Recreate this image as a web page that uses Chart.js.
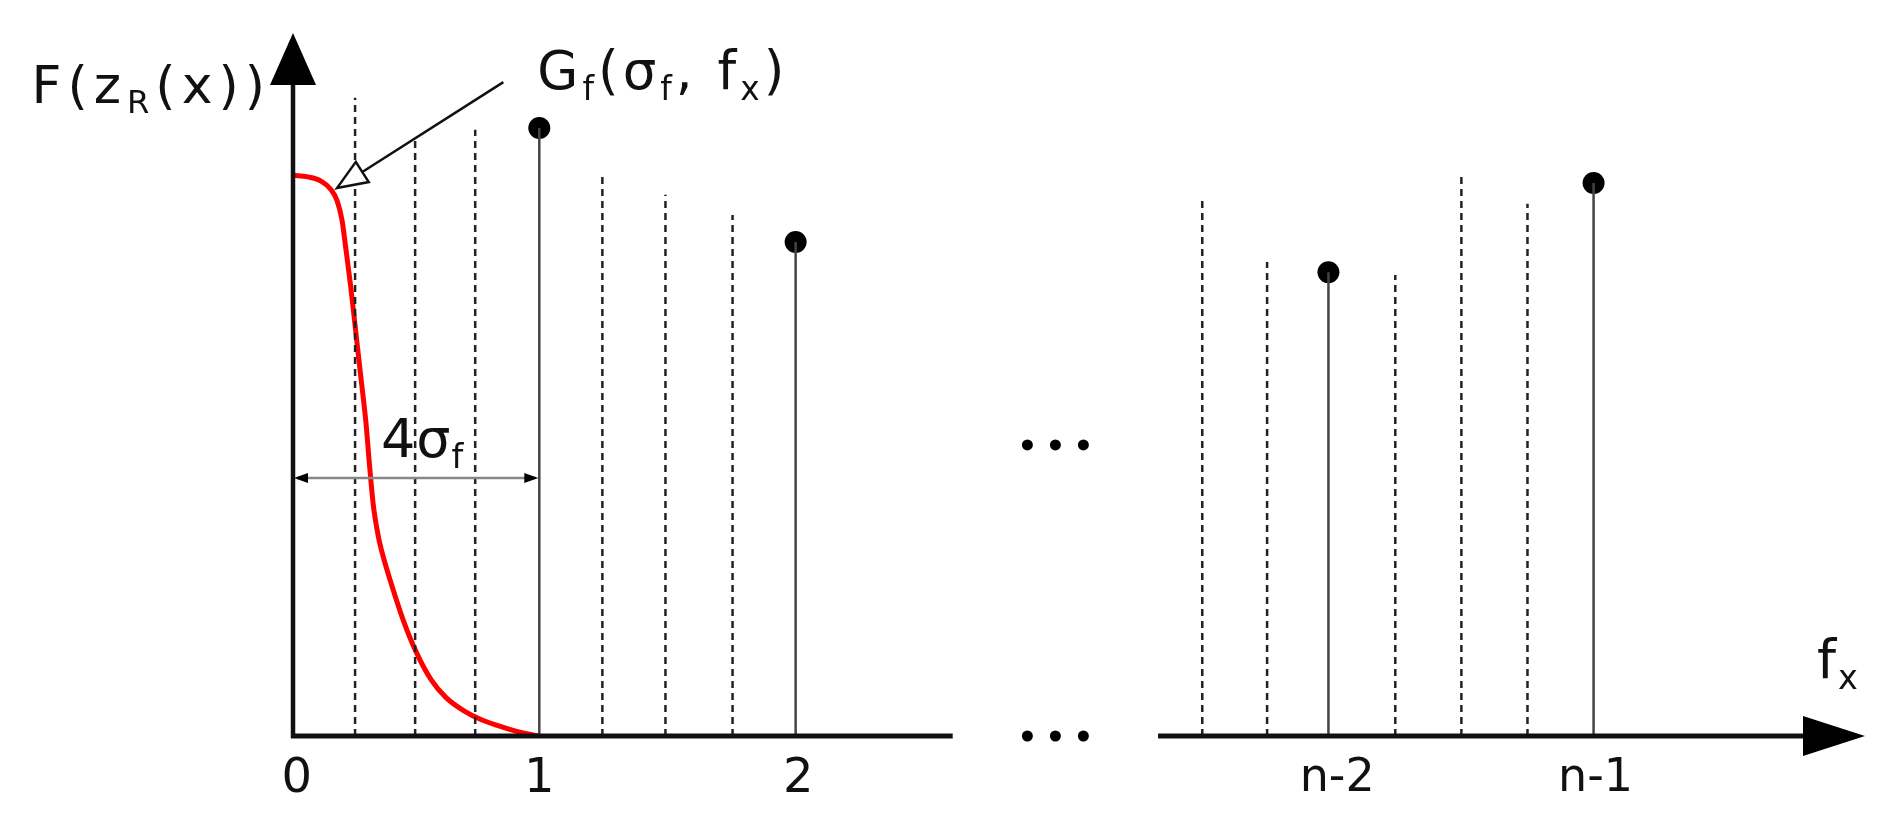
<!DOCTYPE html>
<html lang="en">
<head>
  <meta charset="UTF-8">
  <title>Gaussian window over sampled spectrum</title>
  <script src="https://cdn.jsdelivr.net/npm/chart.js"></script>
  <style>
    body {
      margin: 0;
      background: #fff;
    }
    .chart-container {
      width: 1892px;
      height: 827px;
      position: relative;
    }
  </style>
</head>
<body>

  <div class="chart-container">
    <canvas id="myChart"></canvas>
  </div>

  <script>
    // red Gaussian window G_f(sigma_f, f_x)
    const curveX = [0, 0.06, 0.11, 0.15, 0.175, 0.195, 0.21, 0.23, 0.25, 0.27, 0.29, 0.305, 0.32, 0.34, 0.36, 0.39, 0.44, 0.49, 0.55, 0.61, 0.68, 0.75, 0.84, 0.92, 0.98];
    const curveY = [1.0, 0.997, 0.99, 0.975, 0.955, 0.92, 0.87, 0.80, 0.72, 0.64, 0.56, 0.48, 0.41, 0.355, 0.318, 0.273, 0.205, 0.15, 0.10, 0.068, 0.045, 0.029, 0.015, 0.005, 0];

    // sample stems (solid, with dot on top)
    const stemX = [0.98, 2.0, 4.12, 5.175];
    const stemY = [1.084, 0.881, 0.827, 0.986];

    // dashed in-between samples
    const dashX = [0.247, 0.486, 0.725, 1.231, 1.482, 1.749, 3.618, 3.876, 4.386, 4.649, 4.912];
    const dashY = [1.138, 1.066, 1.081, 1.004, 0.965, 0.929, 0.956, 0.845, 0.822, 1.000, 0.949];

    // x tick labels
    const tickX = [0.015, 0.98, 2.01, 4.155, 5.183];
    const tickLabels = ['0', '1', '2', 'n-2', 'n-1'];

    const xMax = 6.255;
    const yMax = 1.25;
    const axisBreak = [2.625, 3.442];   // gap in the f_x axis
    const FONT = '"DejaVu Sans", sans-serif';

    const datasets = [];

    dashX.forEach((x, i) => {
      datasets.push({
        data: [{ x: x, y: 0 }, { x: x, y: dashY[i] }],
        showLine: true,
        borderColor: '#222',
        borderWidth: 2.5,
        borderDash: [7, 5],
        pointRadius: 0
      });
    });

    stemX.forEach((x, i) => {
      datasets.push({
        data: [{ x: x, y: 0 }, { x: x, y: stemY[i] }],
        showLine: true,
        borderColor: '#444',
        borderWidth: 2.5,
        pointRadius: 0
      });
    });

    datasets.push({
      data: curveX.map((x, i) => ({ x: x, y: curveY[i] })),
      showLine: true,
      borderColor: '#ff0000',
      borderWidth: 5,
      cubicInterpolationMode: 'monotone',
      pointRadius: 0
    });

    datasets.push({
      data: stemX.map((x, i) => ({ x: x, y: stemY[i] })),
      showLine: false,
      pointRadius: 11,
      pointBackgroundColor: '#000',
      pointBorderWidth: 0
    });

    // draws text pieces, some of them as subscripts, char by char with extra spacing
    function richText(ctx, parts, x, y, size, spacing, align) {
      const subSize = size * 0.62;
      const measure = () => {
        let w = 0;
        parts.forEach(p => {
          ctx.font = (p[1] ? subSize : size) + 'px ' + FONT;
          for (const ch of p[0]) w += ctx.measureText(ch).width + spacing;
        });
        return w - spacing;
      };
      let cx = align === 'right' ? x - measure() : x;
      ctx.textAlign = 'left';
      ctx.textBaseline = 'alphabetic';
      parts.forEach(p => {
        ctx.font = (p[1] ? subSize : size) + 'px ' + FONT;
        const dy = p[1] ? size * 0.2 : 0;
        for (const ch of p[0]) {
          ctx.fillText(ch, cx, y + dy);
          cx += ctx.measureText(ch).width + spacing;
        }
      });
    }

    function tri(ctx, a, b, c, fill) {
      ctx.beginPath();
      ctx.moveTo(a[0], a[1]);
      ctx.lineTo(b[0], b[1]);
      ctx.lineTo(c[0], c[1]);
      ctx.closePath();
      if (fill) ctx.fill(); else ctx.stroke();
    }

    const decorations = {
      id: 'decorations',
      afterDatasetsDraw(chart) {
        const ctx = chart.ctx;
        const xs = chart.scales.x, ys = chart.scales.y;
        const area = chart.chartArea;
        const px = v => xs.getPixelForValue(v);
        const py = v => ys.getPixelForValue(v);
        const x0 = px(0), y0 = py(0);

        ctx.save();
        ctx.fillStyle = '#000';
        ctx.strokeStyle = '#111';

        // y axis with arrow
        const yTip = area.top - 2;
        ctx.lineWidth = 4.5;
        ctx.beginPath();
        ctx.moveTo(x0, y0 + 2);
        ctx.lineTo(x0, yTip + 40);
        ctx.stroke();
        tri(ctx, [x0, yTip], [x0 - 23, yTip + 52], [x0 + 23, yTip + 52], true);

        // x axis, broken, with arrow
        const xTip = area.right;
        ctx.lineWidth = 5;
        ctx.beginPath();
        ctx.moveTo(x0 - 2, y0);
        ctx.lineTo(px(axisBreak[0]), y0);
        ctx.moveTo(px(axisBreak[1]), y0);
        ctx.lineTo(xTip - 50, y0);
        ctx.stroke();
        tri(ctx, [xTip, y0], [xTip - 62, y0 - 20], [xTip - 62, y0 + 20], true);

        // ellipsis marks
        const mid = px((axisBreak[0] + axisBreak[1]) / 2);
        [py(0.519), y0].forEach(yy => {
          [-28, 0, 28].forEach(d => {
            ctx.beginPath();
            ctx.arc(mid + d, yy, 5.5, 0, Math.PI * 2);
            ctx.fill();
          });
        });

        // 4 sigma_f span arrow
        const ya = py(0.46);
        ctx.strokeStyle = '#888';
        ctx.lineWidth = 2.5;
        ctx.beginPath();
        ctx.moveTo(x0 + 4, ya);
        ctx.lineTo(px(0.98) - 4, ya);
        ctx.stroke();
        tri(ctx, [x0 + 1, ya], [x0 + 15, ya - 5], [x0 + 15, ya + 5], true);
        tri(ctx, [px(0.98) - 1, ya], [px(0.98) - 15, ya - 5], [px(0.98) - 15, ya + 5], true);

        // annotation arrow to the Gaussian
        const tip = [px(0.175), py(0.977)];
        const tail = [px(0.837), py(1.166)];
        const dx = tail[0] - tip[0], dy = tail[1] - tip[1];
        const len = Math.hypot(dx, dy);
        const ux = dx / len, uy = dy / len;
        const base = [tip[0] + ux * 30, tip[1] + uy * 30];
        ctx.strokeStyle = '#111';
        ctx.lineWidth = 2.5;
        ctx.beginPath();
        ctx.moveTo(tail[0], tail[1]);
        ctx.lineTo(base[0], base[1]);
        ctx.stroke();
        ctx.fillStyle = '#fff';
        tri(ctx, tip, [base[0] - uy * 12, base[1] + ux * 12], [base[0] + uy * 12, base[1] - ux * 12], true);
        ctx.fillStyle = '#000';
        tri(ctx, tip, [base[0] - uy * 12, base[1] + ux * 12], [base[0] + uy * 12, base[1] - ux * 12], false);

        // labels
        ctx.fillStyle = '#111';
        richText(ctx, [['F(z', 0], ['R', 1], ['(x))', 0]], x0 - 28, 103, 52, 6, 'right');
        richText(ctx, [['G', 0], ['f', 1], ['(σ', 0], ['f', 1], [', f', 0], ['x', 1], [')', 0]], tail[0] + 34, 89, 53, 4, 'left');
        richText(ctx, [['4σ', 0], ['f', 1]], px(0.35), 457, 54, 1, 'left');
        richText(ctx, [['f', 0], ['x', 1]], xTip - 48, 678, 54, 2, 'left');

        ctx.restore();
      }
    };

    new Chart(document.getElementById('myChart'), {
      type: 'scatter',
      data: { datasets: datasets },
      options: {
        responsive: true,
        maintainAspectRatio: false,
        animation: false,
        events: [],
        layout: {
          padding: { left: 293, right: 27, top: 35, bottom: 0 }
        },
        plugins: {
          legend: { display: false },
          tooltip: { enabled: false }
        },
        scales: {
          x: {
            type: 'linear',
            min: 0,
            max: xMax,
            grid: { display: false, drawTicks: false },
            border: { display: false },
            afterFit: scale => { scale.height = 91; },
            afterBuildTicks: scale => {
              scale.ticks = tickX.map(v => ({ value: v }));
            },
            ticks: {
              autoSkip: false,
              maxRotation: 0,
              padding: 15,
              color: '#111',
              font: ctx => ({
                family: FONT,
                size: ctx.index > 2 ? 46 : 48
              }),
              callback: (value, index) => tickLabels[index]
            }
          },
          y: {
            display: false,
            min: 0,
            max: yMax
          }
        }
      },
      plugins: [decorations]
    });
  </script>
</body>
</html>
